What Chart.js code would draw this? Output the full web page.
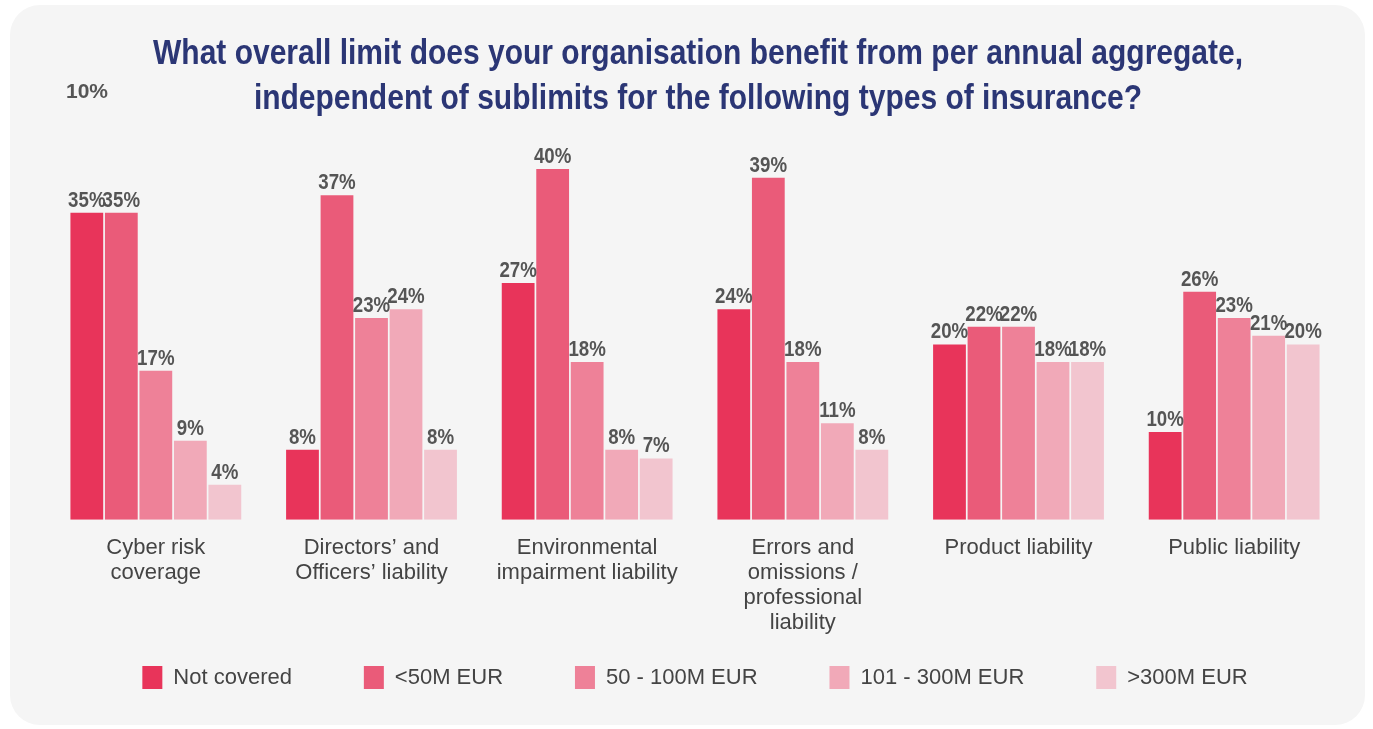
<!DOCTYPE html>
<html>
<head>
<meta charset="utf-8">
<script src="https://cdn.jsdelivr.net/npm/chart.js@4"></script>
<style>
  html, body { margin: 0; padding: 0; background: #ffffff; }
  #card { position: absolute; left: 10px; top: 5px; width: 1355px; height: 720px; background: #f5f5f5; border-radius: 30px; }
  #wrap { position: absolute; left: 0; top: 0; width: 1373px; height: 729px; }
</style>
</head>
<body>
<div id="card"></div>
<div id="wrap"><canvas id="myChart" width="1373" height="729"></canvas></div>
<script>
const titleLines = [
    "What overall limit does your organisation benefit from per annual aggregate,",
    "independent of sublimits for the following types of insurance?"
];
const categories = [
    ["Cyber risk", "coverage"],
    ["Directors’ and", "Officers’ liability"],
    ["Environmental", "impairment liability"],
    ["Errors and", "omissions /", "professional", "liability"],
    "Product liability",
    "Public liability"
];
const seriesNames = ["Not covered", "<50M EUR", "50 - 100M EUR", "101 - 300M EUR", ">300M EUR"];
const notCovered = [35, 8, 27, 24, 20, 10];
const under50 = [35, 37, 40, 39, 22, 26];
const from50to100 = [17, 23, 18, 18, 22, 23];
const from101to300 = [9, 24, 8, 11, 18, 21];
const over300 = [4, 8, 7, 8, 18, 20];
const colours = ["#e8345a", "#ea5b79", "#ee8198", "#f1a9b8", "#f2c5cf"];

const allSeries = [notCovered, under50, from50to100, from101to300, over300];

// condensed bold title, value labels and the stray "10%" in the corner
const extras = {
    id: "extras",
    afterDraw(chart) {
        const ctx = chart.ctx;
        ctx.save();
        ctx.fillStyle = "#2b3675";
        ctx.font = "bold 35px 'Liberation Sans'";
        ctx.textAlign = "center";
        ctx.textBaseline = "alphabetic";
        const squeeze = 1090 / ctx.measureText(titleLines[0]).width;
        [64, 109].forEach((y, i) => {
            ctx.save();
            ctx.translate(698, y);
            ctx.scale(squeeze, 1);
            ctx.fillText(titleLines[i], 0, 0);
            ctx.restore();
        });

        ctx.fillStyle = "#555555";
        ctx.font = "bold 22px 'Liberation Sans'";
        chart.data.datasets.forEach((ds, i) => {
            chart.getDatasetMeta(i).data.forEach((bar, j) => {
                ctx.save();
                ctx.translate(bar.x, bar.y - 6);
                ctx.scale(0.85, 1);
                ctx.fillText(ds.data[j] + "%", 0, 0);
                ctx.restore();
            });
        });

        ctx.font = "bold 21px 'Liberation Sans'";
        ctx.textAlign = "left";
        ctx.fillText("10%", 66, 98);
        ctx.restore();
    }
};

let myChart = document.getElementById("myChart").getContext("2d");
let limitChart = new Chart(myChart, {
    type: "bar",
    data: {
        labels: categories,
        datasets: allSeries.map((values, i) => ({
            label: seriesNames[i],
            data: values,
            backgroundColor: colours[i],
            categoryPercentage: 0.8,
            barPercentage: 0.95
        }))
    },
    options: {
        responsive: false,
        animation: false,
        layout: { padding: { left: 48, right: 31, top: 169, bottom: 30 } },
        scales: {
            x: {
                grid: { display: false },
                border: { display: false },
                ticks: {
                    color: "#444444",
                    padding: 7,
                    font: { family: "'Liberation Sans'", size: 22, lineHeight: 1.15 }
                }
            },
            y: {
                display: false,
                min: 0,
                max: 40
            }
        },
        plugins: {
            legend: {
                position: "bottom",
                labels: {
                    boxWidth: 20,
                    boxHeight: 23,
                    padding: 23,
                    color: "#444444",
                    font: { family: "'Liberation Sans'", size: 22 },
                    // wider gaps between items without a tall legend box
                    generateLabels: (chart) => {
                        const items = Chart.defaults.plugins.legend.labels.generateLabels(chart);
                        items.forEach((item, i) => {
                            if (i < items.length - 1) item.text += "\u00A0".repeat(8);
                        });
                        return items;
                    }
                }
            },
            tooltip: { enabled: false }
        }
    },
    plugins: [extras]
});
</script>
</body>
</html>
